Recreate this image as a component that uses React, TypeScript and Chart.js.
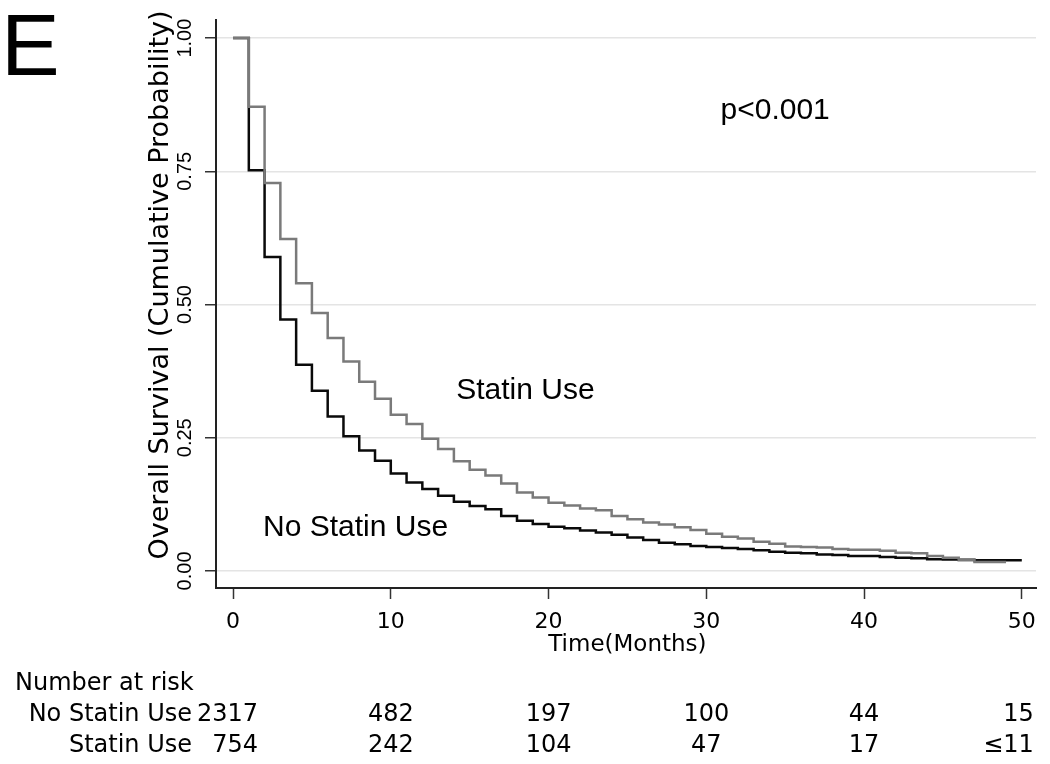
import React, { useEffect, useRef } from "react";
import { Chart, registerables } from "chart.js";

Chart.register(...registerables);

// ---- Data ----
const MONTHS = [
  0, 1, 2, 3, 4, 5, 6, 7, 8, 9, 10, 11, 12, 13, 14, 15, 16, 17, 18, 19, 20,
  21, 22, 23, 24, 25, 26, 27, 28, 29, 30, 31, 32, 33, 34, 35, 36, 37, 38, 39,
  40, 41, 42, 43, 44, 45, 46, 47, 48, 49, 50,
];

// survival probability on [t, t+1)
const NO_STATIN_SURVIVAL = [
  1.0, 0.752, 0.589, 0.472, 0.387, 0.338, 0.29, 0.253, 0.226, 0.207, 0.183,
  0.166, 0.154, 0.141, 0.13, 0.122, 0.116, 0.103, 0.094, 0.088, 0.083, 0.08,
  0.076, 0.072, 0.068, 0.063, 0.058, 0.053, 0.05, 0.047, 0.045, 0.043, 0.041,
  0.039, 0.036, 0.034, 0.033, 0.031, 0.03, 0.028, 0.028, 0.026, 0.025, 0.024,
  0.022, 0.0215, 0.021, 0.02, 0.02, 0.02, 0.02,
];

const STATIN_SURVIVAL = [
  1.0, 0.871, 0.728, 0.623, 0.54, 0.484, 0.437, 0.393, 0.355, 0.323, 0.293,
  0.276, 0.248, 0.229, 0.206, 0.19, 0.179, 0.164, 0.147, 0.138, 0.128, 0.123,
  0.117, 0.114, 0.103, 0.097, 0.091, 0.087, 0.082, 0.077, 0.07, 0.064, 0.061,
  0.055, 0.051, 0.046, 0.045, 0.044, 0.041, 0.04, 0.04, 0.038, 0.034, 0.033,
  0.028, 0.025, 0.02, 0.017, 0.017, 0.017,
];

const X_TICKS = [0, 10, 20, 30, 40, 50];
const Y_TICKS = [0, 0.25, 0.5, 0.75, 1.0];

const RISK_TIMES = [0, 10, 20, 30, 40, 50];
const RISK_NO_STATIN = ["2317", "482", "197", "100", "44", "15"];
const RISK_STATIN = ["754", "242", "104", "47", "17", "≤11"];

const GROUP_NAMES = ["No Statin Use", "Statin Use"];
const PANEL_LETTER = "E";
const P_VALUE_TEXT = "p<0.001";
const X_TITLE = "Time(Months)";
const Y_TITLE = "Overall Survival (Cumulative Probability)";
const RISK_HEADER = "Number at risk";

const SANS = "'Liberation Sans', Arial, sans-serif";
const WIDE = "'DejaVu Sans', sans-serif";

const annotationPlugin = {
  id: "kmAnnotations",
  afterDraw(chart: any) {
    const ctx = chart.ctx as CanvasRenderingContext2D;
    const xs = chart.scales.x;
    const ys = chart.scales.y;
    ctx.save();
    ctx.fillStyle = "#000";

    // panel letter
    ctx.font = `88px ${SANS}`;
    ctx.textAlign = "left";
    ctx.textBaseline = "alphabetic";
    ctx.fillText(PANEL_LETTER, 1, 75);

    // p value
    ctx.font = `30px ${SANS}`;
    ctx.fillText(P_VALUE_TEXT, xs.getPixelForValue(30.9), ys.getPixelForValue(0.848));

    // curve labels
    ctx.fillText(GROUP_NAMES[1], xs.getPixelForValue(14.15), ys.getPixelForValue(0.323));
    ctx.fillText(GROUP_NAMES[0], xs.getPixelForValue(1.9), ys.getPixelForValue(0.066));

    // y axis title
    ctx.save();
    ctx.translate(161, 285);
    ctx.rotate(-Math.PI / 2);
    ctx.textAlign = "center";
    ctx.textBaseline = "middle";
    ctx.font = `27px ${WIDE}`;
    ctx.fillText(Y_TITLE, 0, 0);
    ctx.restore();

    // x axis title
    ctx.textAlign = "center";
    ctx.textBaseline = "middle";
    ctx.font = `23px ${WIDE}`;
    ctx.fillText(X_TITLE, xs.getPixelForValue(25), 645);

    // number at risk table
    ctx.font = `24px ${WIDE}`;
    ctx.textBaseline = "alphabetic";
    ctx.textAlign = "left";
    ctx.fillText(RISK_HEADER, 15, 690);
    ctx.textAlign = "right";
    ctx.fillText(GROUP_NAMES[0], 192, 721);
    ctx.fillText(GROUP_NAMES[1], 192, 752);

    const rows = [
      { vals: RISK_NO_STATIN, y: 721 },
      { vals: RISK_STATIN, y: 752 },
    ];
    rows.forEach((row) => {
      RISK_TIMES.forEach((t, i) => {
        const px = xs.getPixelForValue(t);
        const last = i === RISK_TIMES.length - 1;
        if (i === 0) {
          ctx.textAlign = "right";
          ctx.fillText(row.vals[i], px + 25, row.y);
        } else if (last) {
          ctx.textAlign = "right";
          ctx.fillText(row.vals[i], px + 12, row.y);
        } else {
          ctx.textAlign = "center";
          ctx.fillText(row.vals[i], px, row.y);
        }
      });
    });
    ctx.restore();
  },
};

export default function App() {
  const canvasRef = useRef<HTMLCanvasElement | null>(null);

  useEffect(() => {
    document.body.style.margin = "0";
    const canvas = canvasRef.current;
    if (!canvas) return;

    const noStatinData = NO_STATIN_SURVIVAL.map((v, i) => ({ x: MONTHS[i], y: v }));
    const statinData = STATIN_SURVIVAL.map((v, i) => ({ x: MONTHS[i], y: v }));

    const chart = new Chart(canvas, {
      type: "line",
      data: {
        datasets: [
          {
            label: GROUP_NAMES[1],
            data: statinData,
            borderColor: "#7a7a7a",
            borderWidth: 2.5,
            pointRadius: 0,
            stepped: "before",
            fill: false,
          },
          {
            label: GROUP_NAMES[0],
            data: noStatinData,
            borderColor: "#0a0a0a",
            borderWidth: 2.5,
            pointRadius: 0,
            stepped: "before",
            fill: false,
          },
        ],
      },
      options: {
        responsive: false,
        animation: false,
        events: [],
        layout: { padding: { left: 156, right: 14, top: 20, bottom: 118.6 } },
        plugins: {
          legend: { display: false },
          tooltip: { enabled: false },
          title: { display: false },
        },
        scales: {
          x: {
            type: "linear",
            min: -1.08,
            max: 50.9,
            afterBuildTicks: (scale: any) => {
              scale.ticks = X_TICKS.map((v) => ({ value: v }));
            },
            ticks: {
              color: "#000",
              font: { family: WIDE, size: 22 },
              padding: 10,
              maxRotation: 0,
              minRotation: 0,
              callback: (v: any) => String(v),
            },
            grid: {
              drawOnChartArea: false,
              drawTicks: true,
              tickLength: 11,
              tickColor: "#333",
              tickWidth: 1.5,
            },
            border: { display: true, color: "#222", width: 2 },
          },
          y: {
            type: "linear",
            min: -0.032,
            max: 1.034,
            afterBuildTicks: (scale: any) => {
              scale.ticks = Y_TICKS.map((v) => ({ value: v }));
            },
            afterFit: (scale: any) => {
              scale.width = 60;
            },
            ticks: {
              color: "#000",
              font: { family: SANS, size: 20 },
              padding: 0,
              minRotation: 90,
              maxRotation: 90,
              crossAlign: "center",
              callback: (v: any) => Number(v).toFixed(2),
            },
            grid: {
              color: "#e4e4e4",
              lineWidth: 1.5,
              drawTicks: true,
              tickLength: 11,
              tickColor: "#333",
              tickWidth: 1.5,
            },
            border: { display: true, color: "#222", width: 2 },
          },
        },
      },
      plugins: [annotationPlugin],
    });

    return () => chart.destroy();
  }, []);

  return (
    <div style={{ width: 1050, height: 764, background: "#fff" }}>
      <canvas ref={canvasRef} width={1050} height={764} style={{ display: "block" }} />
    </div>
  );
}
